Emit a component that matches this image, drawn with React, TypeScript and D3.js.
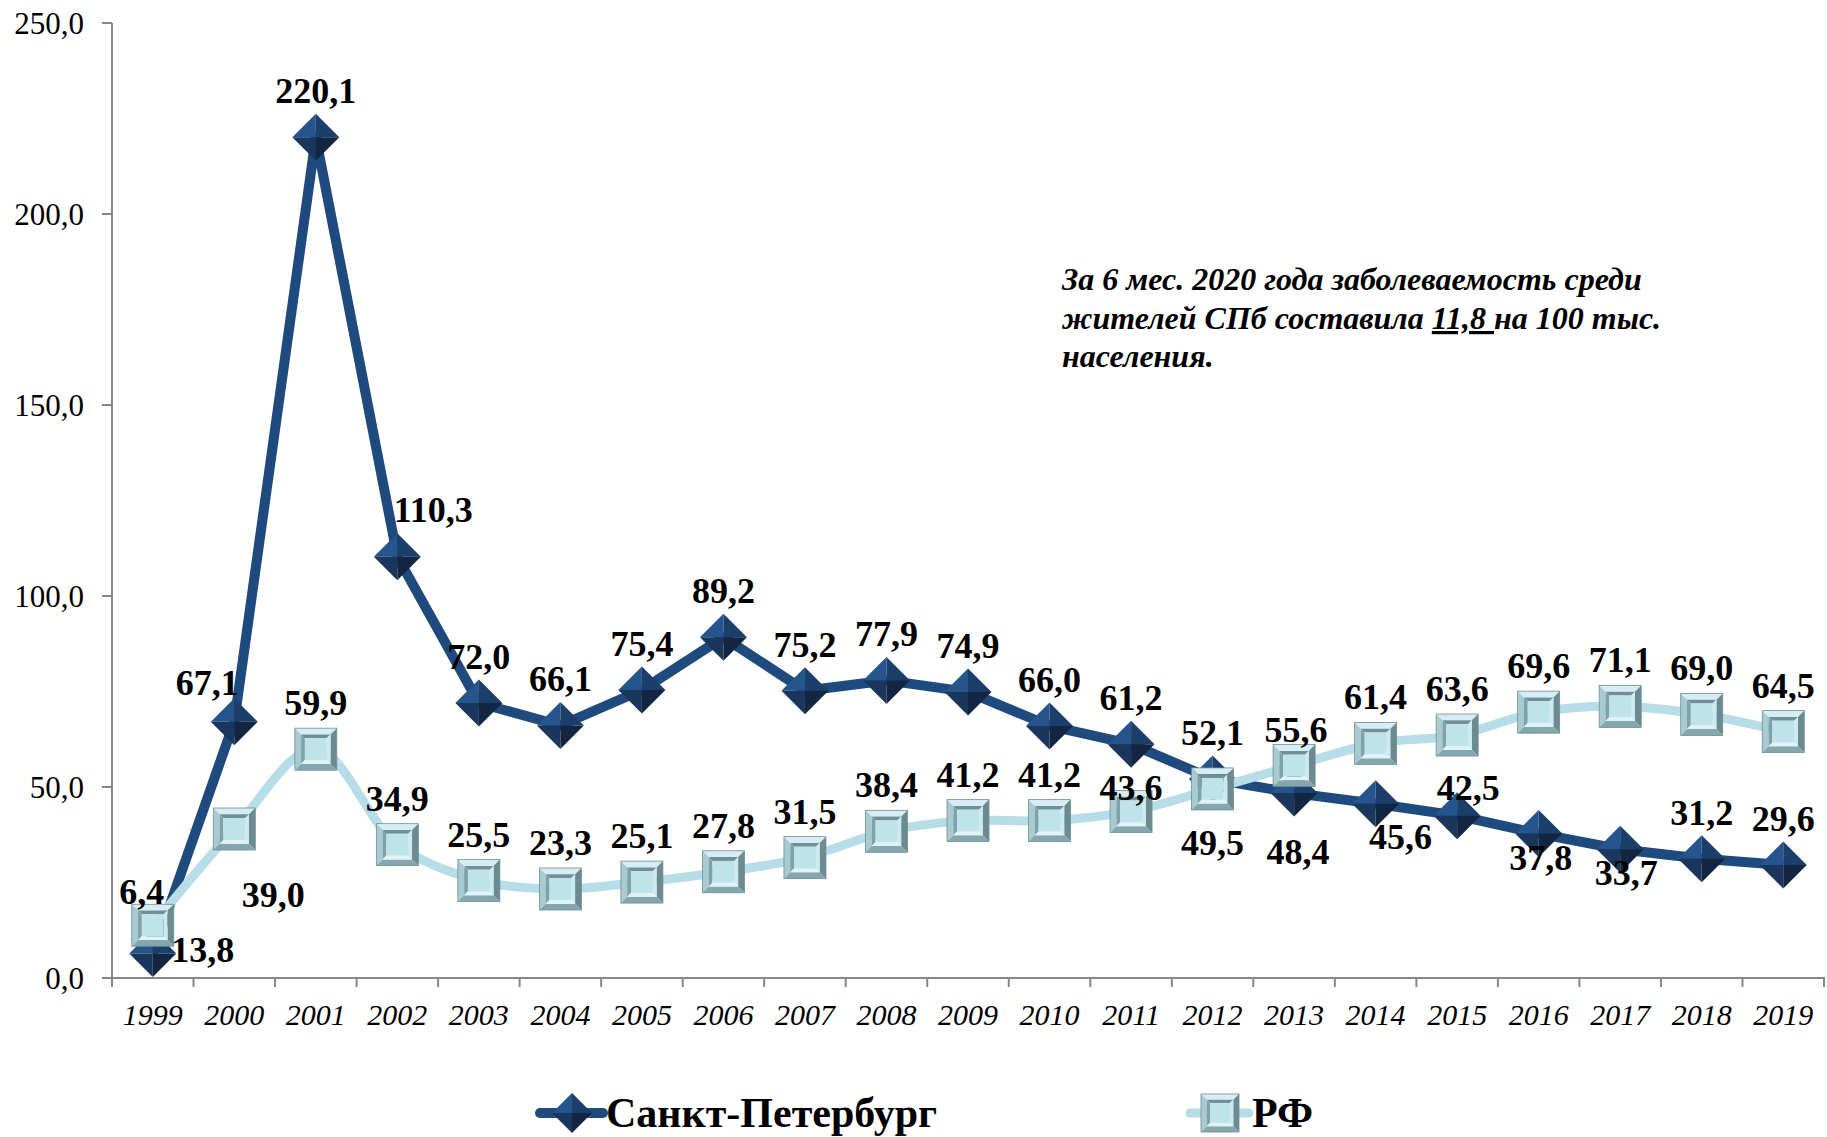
import React from 'react';
import * as d3 from 'd3';

const years = ['1999', '2000', '2001', '2002', '2003', '2004', '2005', '2006', '2007', '2008', '2009',
  '2010', '2011', '2012', '2013', '2014', '2015', '2016', '2017', '2018', '2019'];
const spb = [6.4, 67.1, 220.1, 110.3, 72.0, 66.1, 75.4, 89.2, 75.2, 77.9, 74.9,
  66.0, 61.2, 52.1, 48.4, 45.6, 42.5, 37.8, 33.7, 31.2, 29.6];
const rf = [13.8, 39.0, 59.9, 34.9, 25.5, 23.3, 25.1, 27.8, 31.5, 38.4, 41.2,
  41.2, 43.6, 49.5, 55.6, 61.4, 63.6, 69.6, 71.1, 69.0, 64.5];
const yTicks = [0, 50, 100, 150, 200, 250];
const seriesNames = ['Санкт-Петербург', 'РФ'];

// label nudges (px) where the label is not simply above the marker
const spbNudge: Record<string, [number, number]> = {
  '1999': [-11, -62], '2000': [-27, -39], '2002': [36, -47], '2013': [4, 59],
  '2014': [25, 33], '2015': [11, -28], '2016': [2, 24], '2017': [6, 24],
};
const rfNudge: Record<string, [number, number]> = {
  '1999': [50, 25], '2000': [39, 66], '2011': [0, -23], '2012': [0, 54], '2013': [2, -36],
};

const width = 1827;
const height = 1137;
const font = '"Liberation Serif", "Times New Roman", serif';
const dark = '#1f4a7e';
const light = '#b7dde8';

const fmt = (v: number) => d3.format('.1f')(v).replace('.', ',');

const Diamond = ({ cx, cy, r }: { cx: number; cy: number; r: number }) => (
  <g>
    <path d={`M${cx},${cy - r}L${cx - r},${cy}L${cx},${cy}Z`} fill="#25558c" />
    <path d={`M${cx},${cy - r}L${cx + r},${cy}L${cx},${cy}Z`} fill="#1c3e6a" />
    <path d={`M${cx - r},${cy}L${cx},${cy + r}L${cx},${cy}Z`} fill="#1a365c" />
    <path d={`M${cx + r},${cy}L${cx},${cy + r}L${cx},${cy}Z`} fill="#132641" />
  </g>
);

const Square = ({ cx, cy, h }: { cx: number; cy: number; h: number }) => {
  const h2 = h * 0.7;
  const h3 = h * 0.52;
  const ring = (a: number, b: number, cols: string[]) => [
    `M${cx - a},${cy - a}L${cx + a},${cy - a}L${cx + b},${cy - b}L${cx - b},${cy - b}Z`,
    `M${cx - a},${cy - a}L${cx - b},${cy - b}L${cx - b},${cy + b}L${cx - a},${cy + a}Z`,
    `M${cx + a},${cy - a}L${cx + a},${cy + a}L${cx + b},${cy + b}L${cx + b},${cy - b}Z`,
    `M${cx - a},${cy + a}L${cx - b},${cy + b}L${cx + b},${cy + b}L${cx + a},${cy + a}Z`,
  ].map((d, i) => <path key={i} d={d} fill={cols[i]} />);
  return (
    <g>
      {ring(h, h2, ['#d6eef3', '#a8cbd2', '#6b8b91', '#84a7ae'])}
      {ring(h2, h3, ['#6f9097', '#7fa1a8', '#cdeaf0', '#e0f4f8'])}
      <rect x={cx - h3} y={cy - h3} width={h3 * 2} height={h3 * 2} fill="#bfe3eb" />
      <rect x={cx - h} y={cy - h} width={h * 2} height={h * 2} fill="none" stroke="#6e8e94" strokeWidth={0.8} />
    </g>
  );
};

export default function App() {
  const x = d3.scaleBand<string>().domain(years).range([112, 1824]).padding(0);
  const y = d3.scaleLinear().domain([0, 250]).range([978, 23]);
  const cx = (yr: string) => (x(yr) as number) + x.bandwidth() / 2;

  const spbLine = d3.line<number>().x((_, i) => cx(years[i])).y(d => y(d));
  const rfLine = d3.line<number>().x((_, i) => cx(years[i])).y(d => y(d)).curve(d3.curveCatmullRom.alpha(0.5));

  const tickXs = d3.range(years.length + 1).map(k => 112 + k * x.bandwidth());

  return (
    <svg width={width} height={height} style={{ position: 'absolute', left: 0, top: 0, background: '#fff' }}
      fontFamily={font}>
      {/* axes */}
      <g stroke="#878787" strokeWidth={2}>
        <line x1={112} x2={112} y1={y(250)} y2={y(0)} />
        {yTicks.map(t => <line key={t} x1={102} x2={112} y1={y(t)} y2={y(t)} />)}
        <line x1={112} x2={1825} y1={y(0)} y2={y(0)} />
        {tickXs.map(t => <line key={t} x1={t} x2={t} y1={y(0)} y2={y(0) + 9} />)}
      </g>
      {yTicks.map(t => (
        <text key={t} x={84} y={y(t) + 11} textAnchor="end" fontSize={31} fill="#000">{fmt(t)}</text>
      ))}
      {years.map(yr => (
        <text key={yr} x={cx(yr)} y={1025} textAnchor="middle" fontSize={30} fontStyle="italic" fill="#000">{yr}</text>
      ))}

      {/* SPb series */}
      <path d={spbLine(spb) || ''} fill="none" stroke={dark} strokeWidth={10} strokeLinejoin="round" />
      {spb.map((v, i) => <Diamond key={i} cx={cx(years[i])} cy={y(v)} r={23.5} />)}

      {/* RF series */}
      <path d={rfLine(rf) || ''} fill="none" stroke={light} strokeWidth={9} strokeLinejoin="round" />
      {rf.map((v, i) => <Square key={i} cx={cx(years[i])} cy={y(v)} h={21} />)}

      {/* data labels */}
      <g fontSize={36} fontWeight="bold" textAnchor="middle" fill="#000">
        {spb.map((v, i) => {
          const [dx, dy] = spbNudge[years[i]] || [0, -46];
          return <text key={'s' + i} x={cx(years[i]) + dx} y={y(v) + dy + 12}>{fmt(v)}</text>;
        })}
        {rf.map((v, i) => {
          const [dx, dy] = rfNudge[years[i]] || [0, -46];
          return <text key={'r' + i} x={cx(years[i]) + dx} y={y(v) + dy + 12}>{fmt(v)}</text>;
        })}
      </g>

      {/* note */}
      <g fontSize={32} fontWeight="bold" fontStyle="italic" fill="#000" style={{ whiteSpace: 'pre' }}>
        <text x={1062} y={290}>За 6 мес. 2020 года заболеваемость среди</text>
        <text x={1062} y={329}>жителей СПб составила <tspan style={{ textDecoration: 'underline' }}>11,8 </tspan>на 100 тыс.</text>
        <text x={1062} y={367}>населения.</text>
      </g>

      {/* legend */}
      <line x1={540} x2={603} y1={1113} y2={1113} stroke={dark} strokeWidth={10} strokeLinecap="round" />
      <Diamond cx={572} cy={1113} r={20} />
      <text x={606} y={1127} fontSize={42} fontWeight="bold" fill="#000">{seriesNames[0]}</text>
      <line x1={1190} x2={1249} y1={1113} y2={1113} stroke={light} strokeWidth={9} strokeLinecap="round" />
      <Square cx={1220} cy={1113} h={19} />
      <text x={1252} y={1127} fontSize={42} fontWeight="bold" fill="#000">{seriesNames[1]}</text>
    </svg>
  );
}
